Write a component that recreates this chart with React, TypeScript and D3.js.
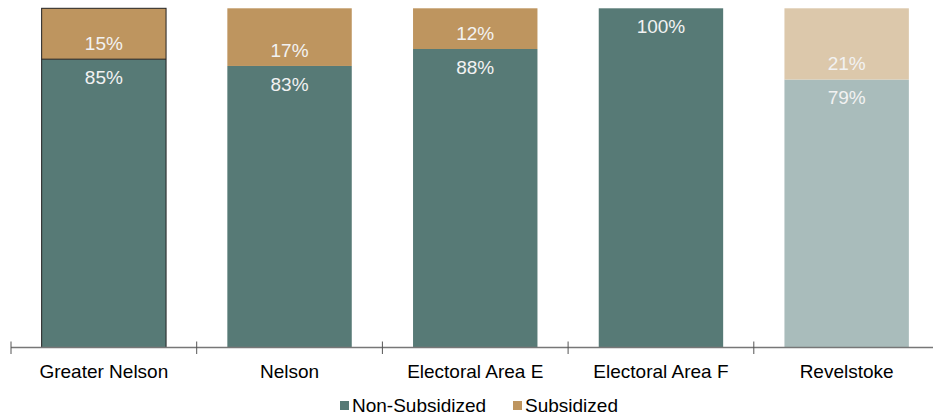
import React from "react";
import * as d3 from "d3";

const categories = ["Greater Nelson", "Nelson", "Electoral Area E", "Electoral Area F", "Revelstoke"];
const nonSubsidized = [85, 83, 88, 100, 79];
const subsidized = [15, 17, 12, 0, 21];
const seriesNames = ["Non-Subsidized", "Subsidized"];

const W = 933;
const H = 418;
const FONT = "'Liberation Sans', Arial, sans-serif";
const FS = 19;

export default function App() {
  const x = d3.scaleBand<string>().domain(categories).range([11, 11 + 185.7 * 5]).paddingInner(0.33).paddingOuter(0.165);
  const y = d3.scaleLinear().domain([0, 100]).range([347.5, 8.3]);
  const colNS = (i: number) => (i === 4 ? "#A9BCBB" : "#577A76");
  const colS = (i: number) => (i === 4 ? "#DCC8AB" : "#BE955F");
  const step = 185.7;
  const ticks = d3.range(0, 6).map((k) => 11 + k * step);

  return (
    <svg width={W} height={H} style={{ position: "absolute", left: 0, top: 0 }}>
      <rect width={W} height={H} fill="#fff" />
      {categories.map((c, i) => {
        const x0 = x(c)!;
        const bw = x.bandwidth();
        const yb = y(nonSubsidized[i]);
        const yt = y(nonSubsidized[i] + subsidized[i]);
        return (
          <g key={c}>
            <rect x={x0} y={yb} width={bw} height={y(0) - yb} fill={colNS(i)} />
            {subsidized[i] > 0 && <rect x={x0} y={yt} width={bw} height={yb - yt} fill={colS(i)} />}
            {i === 0 && (
              <>
                <rect x={x0} y={y(100)} width={bw} height={y(0) - y(100)} fill="none" stroke="#222" strokeWidth={1} />
                <line x1={x0} x2={x0 + bw} y1={yb} y2={yb} stroke="#222" strokeWidth={1} />
              </>
            )}
            {subsidized[i] > 0 && (
              <text x={x0 + bw / 2} y={yb - 16} dy="0.35em" textAnchor="middle" fill="#F2F2F2" fontFamily={FONT} fontSize={FS}>
                {subsidized[i]}%
              </text>
            )}
            <text x={x0 + bw / 2} y={yb + 18} dy="0.35em" textAnchor="middle" fill="#F2F2F2" fontFamily={FONT} fontSize={FS}>
              {nonSubsidized[i]}%
            </text>
            <text x={x0 + bw / 2} y={371} dy="0.35em" textAnchor="middle" fill="#000" fontFamily={FONT} fontSize={FS}>
              {c}
            </text>
          </g>
        );
      })}
      <line x1={11} x2={W} y1={347.5} y2={347.5} stroke="#777" strokeWidth={1.3} />
      {ticks.map((t) => (
        <line key={t} x1={t} x2={t} y1={341.5} y2={354} stroke="#555" strokeWidth={1} />
      ))}
      <g fontFamily={FONT} fontSize={FS} fill="#000">
        <rect x={340} y={401} width={9} height={9} fill="#577A76" />
        <text x={352} y={405.5} dy="0.35em">{seriesNames[0]}</text>
        <rect x={513} y={401} width={9} height={9} fill="#BE955F" />
        <text x={525} y={405.5} dy="0.35em">{seriesNames[1]}</text>
      </g>
    </svg>
  );
}
